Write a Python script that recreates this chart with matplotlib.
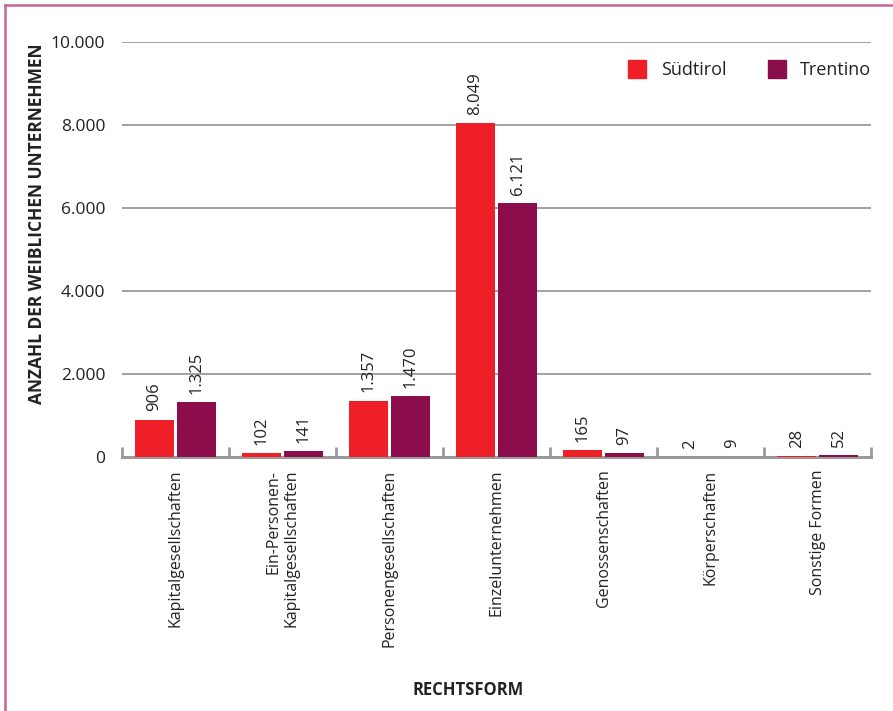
import numpy as np
import matplotlib
matplotlib.use('Agg')
import matplotlib.pyplot as plt
from matplotlib.ticker import FuncFormatter
from matplotlib.lines import Line2D

# Schrift
plt.rcParams['font.family'] = ['Open Sans', 'DejaVu Sans']

# Daten: weibliche Unternehmen nach Rechtsform
kategorien = ["Kapitalgesellschaften", "Ein-Personen-\nKapitalgesellschaften",
              "Personengesellschaften", "Einzelunternehmen", "Genossenschaften",
              "Körperschaften", "Sonstige Formen"]
suedtirol = [906, 102, 1357, 8049, 165, 2, 28]
trentino = [1325, 141, 1470, 6121, 97, 9, 52]

farbe_st = '#ee1f26'
farbe_tn = '#8b0d4c'
grau = '#9a9a9a'

def de_zahl(v):
    return f"{int(v):,}".replace(",", ".")

fig = plt.figure(figsize=(8.93, 7.11), dpi=100)
ax = fig.add_axes([0.1366, 0.357, 0.839, 0.584])

x = np.arange(len(kategorien))
breite = 0.364
versatz = 0.196

b1 = ax.bar(x - versatz, suedtirol, breite, color=farbe_st, zorder=3)
b2 = ax.bar(x + versatz, trentino, breite, color=farbe_tn, zorder=3)

# Werte über den Balken
for balken, werte in ((b1, suedtirol), (b2, trentino)):
    for b, v in zip(balken, werte):
        ax.annotate(de_zahl(v), (b.get_x() + b.get_width() / 2, v),
                    xytext=(0, 6), textcoords='offset points',
                    rotation=90, ha='center', va='bottom',
                    fontsize=12, color='#222222')

ax.set_xlim(-0.5, len(kategorien) - 0.5)
ax.set_ylim(0, 10000)
ax.set_yticks(np.arange(0, 10001, 2000))
ax.yaxis.set_major_formatter(FuncFormatter(lambda v, p: de_zahl(v)))
ax.yaxis.grid(True, color=grau, linewidth=1.3, zorder=0)
ax.tick_params(axis='y', length=0, pad=12, labelsize=12.5, labelcolor='#222222')

ax.set_xticks(x)
ax.set_xticklabels(kategorien, rotation=90, ha='center', va='top',
                   multialignment='right', fontsize=11.5, color='#222222')
ax.tick_params(axis='x', which='major', length=0, pad=9)
ax.set_xticks(np.arange(-0.5, len(kategorien)), minor=True)
ax.tick_params(axis='x', which='minor', direction='in', length=7, width=2, color=grau)

for s in ('top', 'right', 'left'):
    ax.spines[s].set_visible(False)
ax.spines['bottom'].set_color(grau)
ax.spines['bottom'].set_linewidth(2.2)
ax.spines['bottom'].set_zorder(2)

# Legende
handles = [Line2D([], [], marker='s', linestyle='', markersize=13, color=farbe_st),
           Line2D([], [], marker='s', linestyle='', markersize=13, color=farbe_tn)]
ax.legend(handles, ['Südtirol', 'Trentino'], loc='upper right', ncol=2,
          frameon=False, fontsize=13, handletextpad=0.3, columnspacing=1.8,
          bbox_to_anchor=(1.022, 0.993), labelcolor='#222222')

fig.text(0.041, 0.685, 'ANZAHL DER WEIBLICHEN UNTERNEHMEN', rotation=90,
         ha='center', va='center', fontsize=12.5, fontweight='bold', color='#222222')
fig.text(0.524, 0.030, 'RECHTSFORM', ha='center', va='center',
         fontsize=12, fontweight='bold', color='#222222')

# Rahmen oben und links
rahmen = '#c4679b'
fig.add_artist(Line2D([0.006, 0.006], [0, 0.993], transform=fig.transFigure,
                      color=rahmen, linewidth=1.8))
fig.add_artist(Line2D([0.006, 1.0], [0.993, 0.993], transform=fig.transFigure,
                      color=rahmen, linewidth=1.8))

fig.savefig('out.png', dpi=100)
